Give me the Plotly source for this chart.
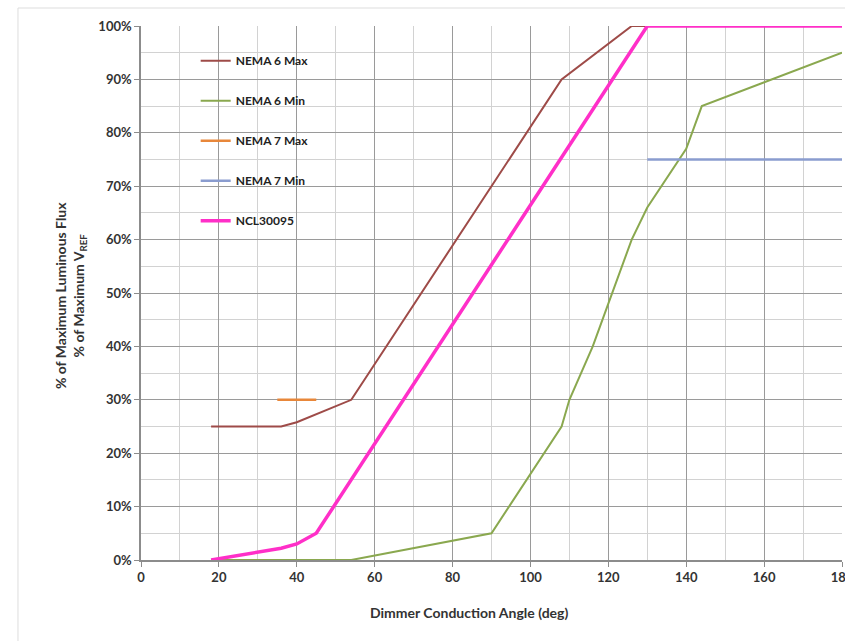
import plotly.graph_objects as go

# ---- data ----
nema6max_x = [18, 36, 40, 54, 108, 126, 180]
nema6max_y = [25, 25, 25.8, 30, 90, 100, 100]

nema6min_x = [18, 54, 90, 108, 110, 116, 120, 126, 130, 140, 144, 180]
nema6min_y = [0, 0, 5, 25, 30, 40, 48, 60, 66, 77, 85, 95]

nema7max_x = [35, 45]
nema7max_y = [30, 30]

nema7min_x = [130, 180]
nema7min_y = [75, 75]

ncl_x = [18, 36, 40, 45, 130, 180]
ncl_y = [0, 2.2, 3, 5, 100, 100]

x_ticks = [0, 20, 40, 60, 80, 100, 120, 140, 160, 180]
y_ticks = [0, 10, 20, 30, 40, 50, 60, 70, 80, 90, 100]
y_ticklabels = [f"{v}%" for v in y_ticks]

FONT = "Lato, 'Open Sans', sans-serif"
TXT = "#333333"

fig = go.Figure()
series = [
    ("NEMA 6 Max", nema6max_x, nema6max_y, "#9E4B48", 2),
    ("NEMA 6 Min", nema6min_x, nema6min_y, "#8AA84F", 2),
    ("NEMA 7 Max", nema7max_x, nema7max_y, "#E8873A", 2.5),
    ("NEMA 7 Min", nema7min_x, nema7min_y, "#8A9CCF", 2.5),
    ("NCL30095", ncl_x, ncl_y, "#FF2FC8", 3.5),
]
for name, xs, ys, col, w in series:
    fig.add_trace(go.Scatter(x=xs, y=ys, name=name, mode="lines",
                             line=dict(color=col, width=w),
                             legendgroup=name))

fig.update_layout(
    width=845, height=641,
    margin=dict(l=141, r=3, t=26, b=81, autoexpand=False),
    paper_bgcolor="white", plot_bgcolor="white",
    font=dict(family=FONT, size=12, color=TXT, weight="bold"),
    showlegend=True,
    legend=dict(x=0.078, y=0.962, xanchor="left", yanchor="top",
                bgcolor="rgba(0,0,0,0)", tracegroupgap=21,
                font=dict(size=12, family=FONT, color="#222222", weight="bold")),
    shapes=[
        dict(type="rect", xref="paper", yref="paper",
             x0=0.034, x1=0.298, y0=0.5936, y1=0.968,
             fillcolor="white", line=dict(width=0), layer="between"),
        dict(type="rect", xref="paper", yref="paper",
             x0=-0.1755, x1=1.02, y0=-0.2, y1=1.0337,
             fillcolor="rgba(0,0,0,0)", line=dict(color="#DDDDDD", width=1),
             layer="below"),
    ],
    annotations=[
        dict(text="Dimmer Conduction Angle (deg)", xref="paper", yref="paper",
             x=0.468, y=-0.099, showarrow=False, xanchor="center", yanchor="middle",
             font=dict(size=14, family=FONT, color=TXT, weight="bold")),
        dict(text="% of Maximum Luminous Flux<br>% of Maximum V<sub>REF</sub>",
             xref="paper", yref="paper", x=-0.1013, y=0.496, textangle=-90,
             showarrow=False, xanchor="center", yanchor="middle",
             font=dict(size=14, family=FONT, color=TXT, weight="bold")),
    ],
)

fig.update_xaxes(
    range=[0, 180], tickvals=x_ticks, ticktext=[str(v) for v in x_ticks],
    showgrid=True, gridcolor="#9A9A9A", gridwidth=1,
    minor=dict(dtick=10, tick0=0, showgrid=True, gridcolor="#D2D2D2", gridwidth=1),
    showline=True, linecolor="#8C8C8C", linewidth=1.5,
    ticks="outside", ticklen=5, tickcolor="#8C8C8C",
    zeroline=False, ticklabeloverflow="allow", automargin=False,
    tickfont=dict(size=13, family=FONT, color=TXT, weight="bold"),
)
fig.update_yaxes(
    range=[0, 100], tickvals=y_ticks, ticktext=y_ticklabels,
    showgrid=True, gridcolor="#9A9A9A", gridwidth=1,
    minor=dict(dtick=5, tick0=0, showgrid=True, gridcolor="#D2D2D2", gridwidth=1),
    showline=True, linecolor="#8C8C8C", linewidth=1.5,
    ticks="outside", ticklen=5, tickcolor="#8C8C8C",
    zeroline=False, automargin=False,
    tickfont=dict(size=13, family=FONT, color=TXT, weight="bold"),
)

fig.write_html("out.html", config={"displayModeBar": False},
               post_script="document.body.style.margin='0';document.body.style.overflow='hidden';")
